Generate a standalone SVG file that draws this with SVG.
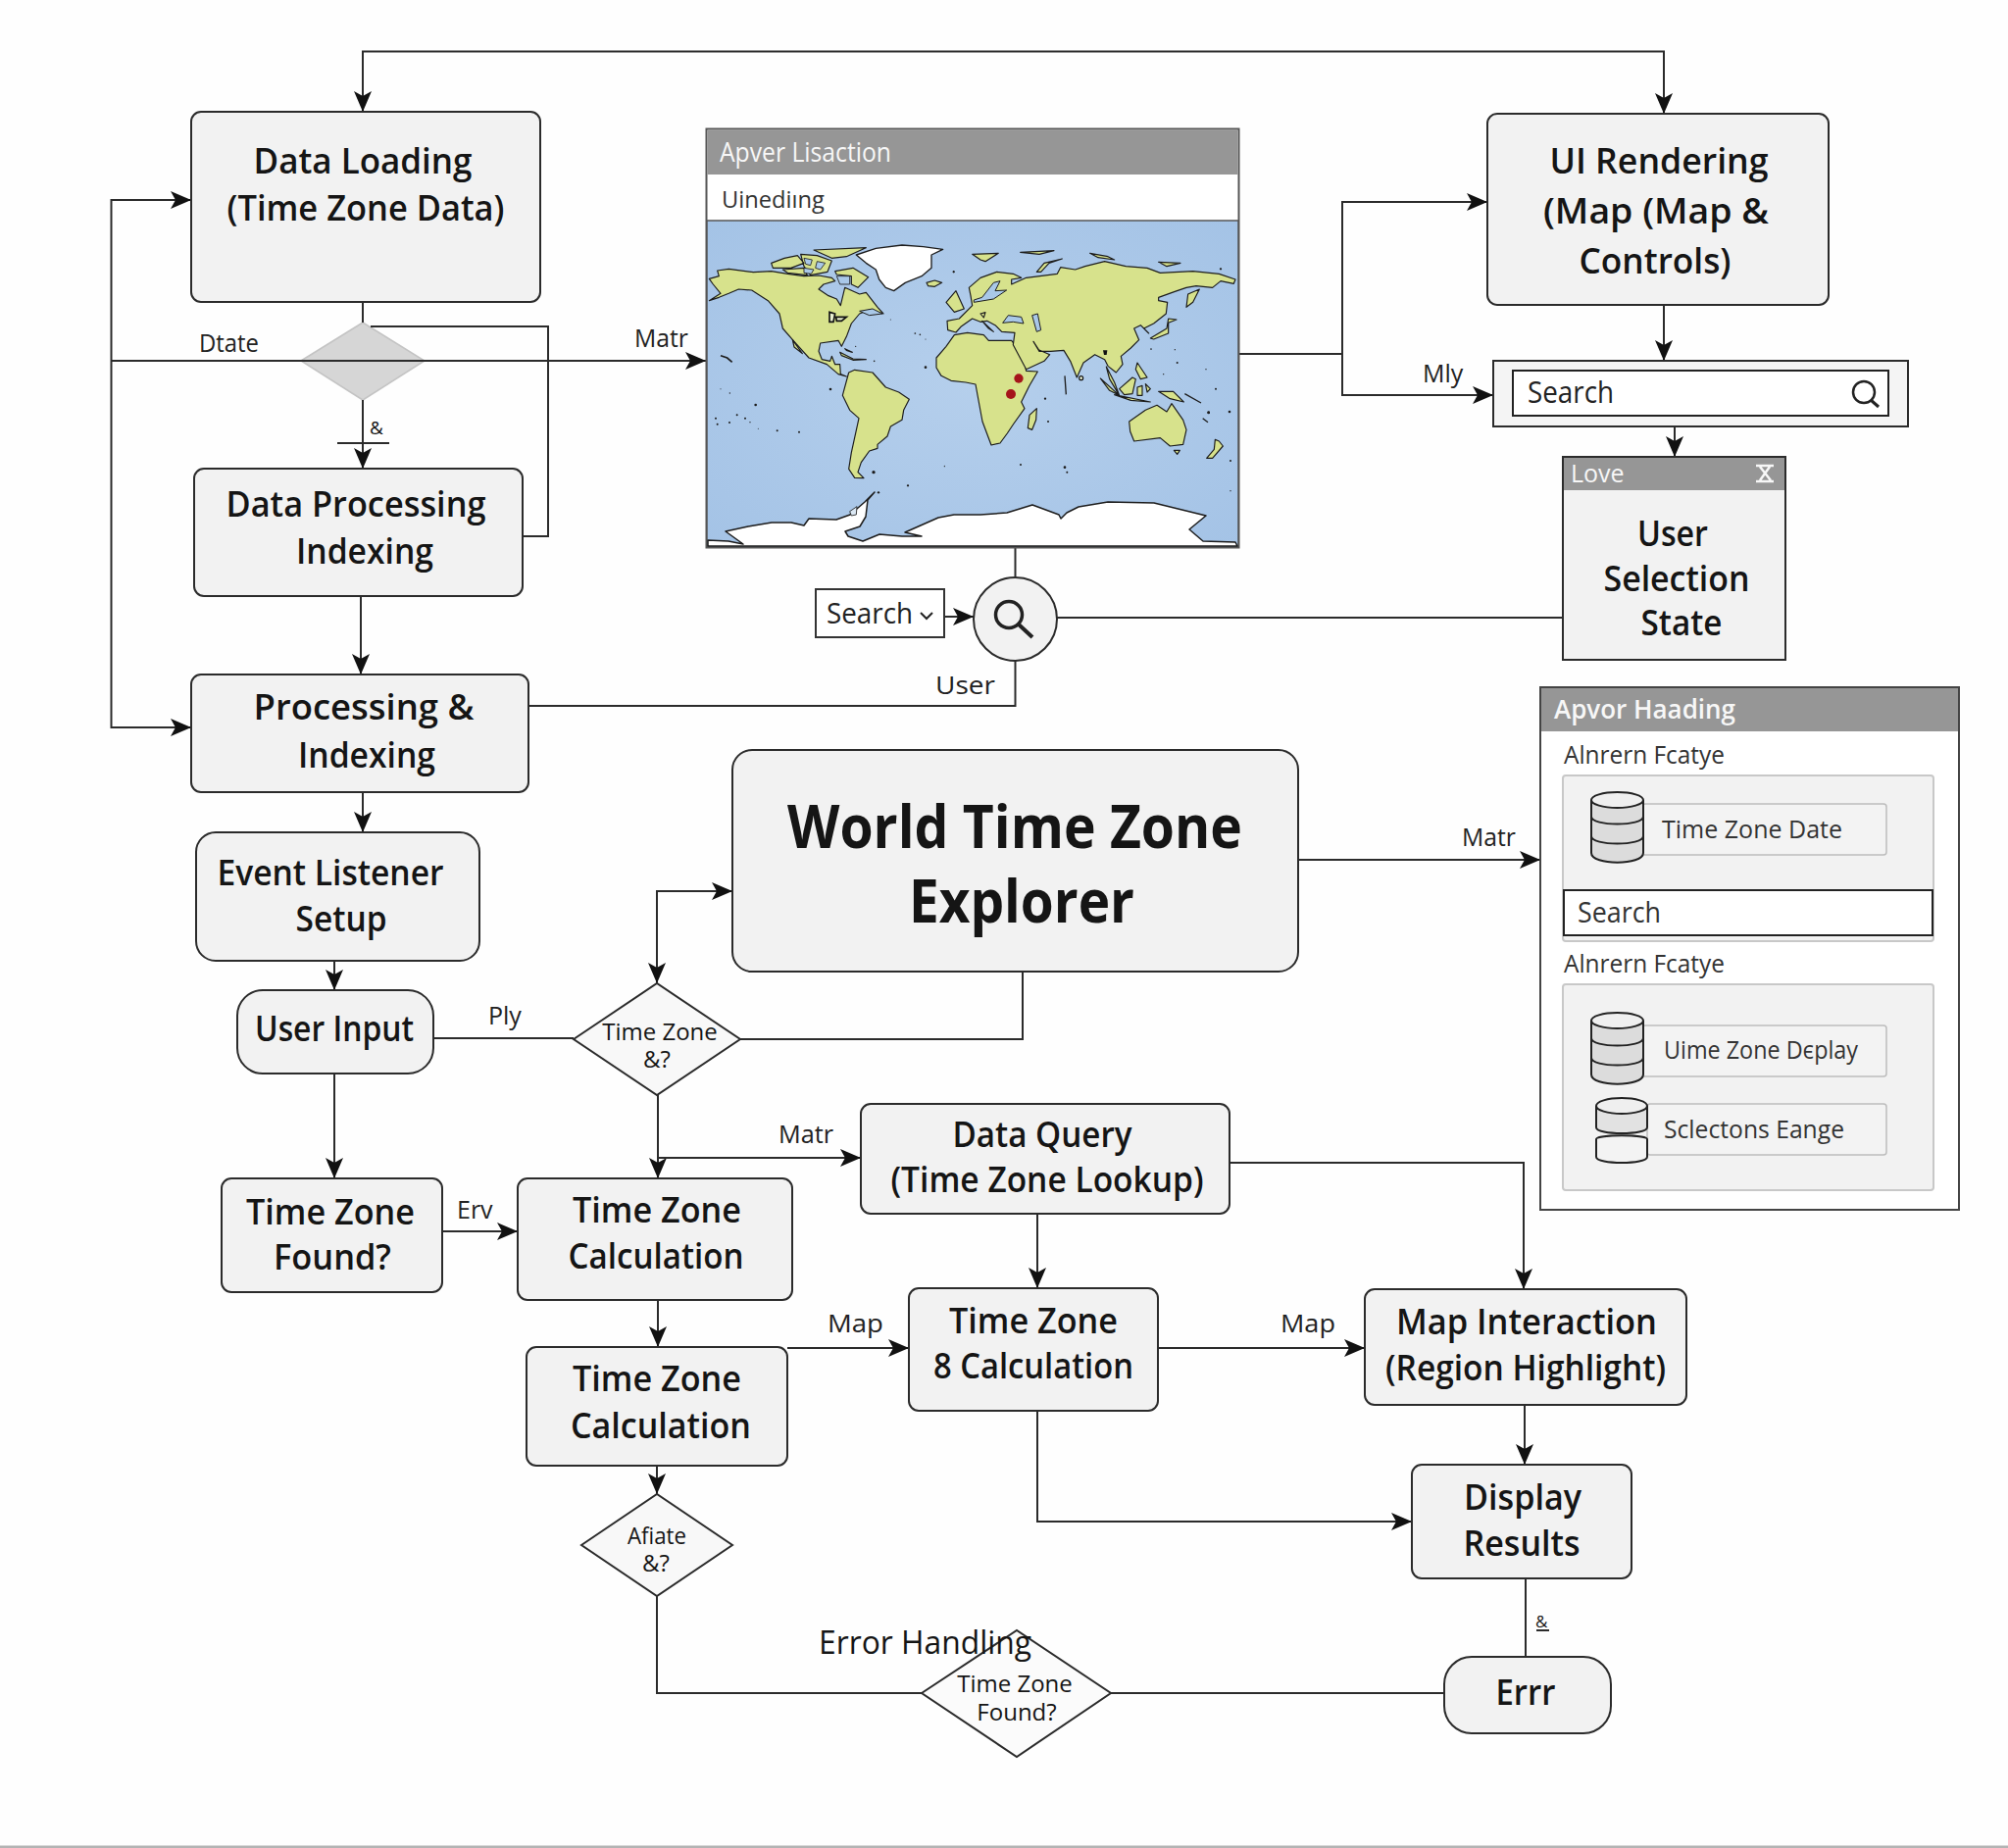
<svg xmlns="http://www.w3.org/2000/svg" width="2048" height="1885" viewBox="0 0 2048 1885">
<style>
text{font-family:"Open Sans","Noto Sans","Liberation Sans",sans-serif;fill:#151515}
.n{font-size:36px;font-weight:600;text-anchor:middle;transform:translateY(-1px)}
.d{font-size:24px;text-anchor:middle;font-weight:400}
.l{font-size:25px;font-weight:400;fill:#222}
.box{fill:#f2f2f2;stroke:#2b2b2b;stroke-width:2}
.c{fill:none;stroke:#2b2b2b;stroke-width:2}
.a{marker-end:url(#ah)}
.hdr{fill:#969696}
.ht{fill:#f7f7f7;font-size:27px;font-weight:500}
.cyl{fill:#dcdcdc;stroke:#222;stroke-width:2}
.row{fill:#f3f3f3;stroke:#bdbdbd;stroke-width:1.5}
.sub{fill:#f2f2f2;stroke:#c8c8c8;stroke-width:2}
.t{font-size:25px;fill:#333}
.land{fill:#d7e28c;stroke:#1c1c1c;stroke-width:3.5;stroke-linejoin:round}
.ice{fill:#fff;stroke:#1c1c1c;stroke-width:1.500;stroke-linejoin:round}
.sea{fill:#a9c8e8;stroke:#1c1c1c;stroke-width:3}
.dot{fill:#1c1c1c}
.ln{fill:none;stroke:#1c1c1c;stroke-width:4}
</style>
<defs>
<marker id="ah" markerUnits="userSpaceOnUse" markerWidth="22" markerHeight="20" viewBox="0 0 22 20" refX="21" refY="10" orient="auto-start-reverse"><path d="M0,1 L21,10 L0,19 L5,10Z" fill="#111"/></marker>
<radialGradient id="ocean" cx="50%" cy="50%" r="70%"><stop offset="0" stop-color="#b5cfec"/><stop offset="1" stop-color="#a4c3e6"/></radialGradient>
</defs>
<rect width="2048" height="1885" fill="#fefefe"/>
<rect x="0" y="1882.5" width="2048" height="2.5" fill="#b4b4b4"/>

<g id="node-gate"><polygon points="307,368 370,329 433,368 370,408" fill="#d6d6d6" stroke="#c4c4c4" stroke-width="1.5"/></g>

<g id="connectors">
<path class="c a" d="M370,114 V52.5 H1697 V116" style="marker-start:url(#ah)"/>
<path class="c" d="M370,308 V329"/>
<path class="c a" d="M370,408 V478"/>
<path class="c" d="M344,452 H397"/>
<path class="c" d="M533,547 H559 V333 H378"/>
<path class="c a" d="M113.5,368 H720"/>
<path class="c a" d="M113.5,368 V204 H195"/>
<path class="c a" d="M113.5,368 V742 H195"/>
<path class="c a" d="M368,608 V688"/>
<path class="c" d="M539,720 H1035.5 V674"/>
<path class="c" d="M1035.5,558 V589"/>
<path class="c" d="M1078,630 H1594"/>
<path class="c a" d="M963,629 H993"/>
<path class="c" d="M1263,361 H1369"/>
<path class="c a" d="M1369,361 V206 H1517"/>
<path class="c a" d="M1369,361 V403 H1523"/>
<path class="c a" d="M1697,311 V368"/>
<path class="c a" d="M1708,435 V466"/>
<path class="c a" d="M370,808 V849"/>
<path class="c a" d="M341,980 V1010"/>
<path class="c" d="M442,1059 H585"/>
<path class="c" d="M755,1060 H1043 V991"/>
<path class="c a" d="M670,1003 V909 H747" style="marker-start:url(#ah)"/>
<path class="c a" d="M1324,877 H1571"/>
<path class="c a" d="M341,1095 V1202"/>
<path class="c a" d="M451,1256 H528"/>
<path class="c a" d="M671,1117 V1202"/>
<path class="c a" d="M671,1181 H878"/>
<path class="c a" d="M1254,1186 H1554 V1315"/>
<path class="c a" d="M1058,1238 V1314"/>
<path class="c a" d="M1181,1375 H1392"/>
<path class="c a" d="M671,1326 V1374"/>
<path class="c a" d="M803,1375 H927"/>
<path class="c a" d="M670,1495 V1524"/>
<path class="c a" d="M1555,1433 V1494"/>
<path class="c a" d="M1058,1439 V1552 H1440"/>
<path class="c" d="M670,1628 V1727 H940"/>
<path class="c" d="M1133,1727 H1473"/>
<path class="c" d="M1556,1610 V1690"/>
</g>

<g id="labels">
<text class="l" x="203" y="359" textLength="61" lengthAdjust="spacingAndGlyphs">Dtate</text>
<text class="l" x="647" y="354" textLength="55" lengthAdjust="spacingAndGlyphs">Matr</text>
<text class="l" x="1451" y="390">Mly</text>
<text class="l" x="954" y="708" textLength="61" lengthAdjust="spacingAndGlyphs">User</text>
<text class="l" x="1491" y="863" textLength="55" lengthAdjust="spacingAndGlyphs">Matr</text>
<text class="l" x="498" y="1045">Ply</text>
<text class="l" x="794" y="1166" textLength="56" lengthAdjust="spacingAndGlyphs">Matr</text>
<text class="l" x="466" y="1243">Erv</text>
<text class="l" x="844" y="1359" textLength="57" lengthAdjust="spacingAndGlyphs">Map</text>
<text class="l" x="1306" y="1359" textLength="56" lengthAdjust="spacingAndGlyphs">Map</text>
<text x="377" y="443" style="font-size:19px">&amp;</text>
<text x="1566" y="1660" style="font-size:17px">&amp;</text>
<path class="c" d="M1567,1663 H1580"/>
</g>

<g id="node-data-loading"><rect class="box" x="195" y="114" width="356" height="194" rx="10"/>
<text class="n" x="370" y="178" textLength="223" lengthAdjust="spacingAndGlyphs">Data Loading</text><text class="n" x="373" y="226" textLength="283" lengthAdjust="spacingAndGlyphs">(Time Zone Data)</text></g>

<g id="node-ui-rendering"><rect class="box" x="1517" y="116" width="348" height="195" rx="10"/>
<text class="n" x="1692" y="178" textLength="223" lengthAdjust="spacingAndGlyphs">UI Rendering</text><text class="n" x="1689" y="229" textLength="230" lengthAdjust="spacingAndGlyphs">(Map (Map &amp;</text><text class="n" x="1688" y="280" textLength="155" lengthAdjust="spacingAndGlyphs">Controls)</text></g>

<g id="node-map-panel">
<rect x="720.5" y="131.5" width="543" height="427" fill="#fff" stroke="#555" stroke-width="2"/>
<rect class="hdr" x="721.5" y="132.5" width="541" height="45.500"/>
<text class="ht" x="734" y="165" textLength="175" lengthAdjust="spacingAndGlyphs">Apver Lisaction</text>
<text x="736" y="212" style="font-size:24px;fill:#333" textLength="105" lengthAdjust="spacingAndGlyphs">Uinediıng</text>
<rect x="721" y="225" width="542" height="333" fill="url(#ocean)" stroke="#555" stroke-width="1.500"/>

<g id="map-antarctica"><path class="ice" d="M722,557 L722,551 L743,552 L758,555 L740,542 L763,537 L787,533 L807,533 L820,536 L825,529 L853,530 L867,525 L882,512 L892,502 L885,510 L883,527 L877,537 L862,542 L865,547 L880,552 L897,545 L920,547 L940,547 L923,543 L957,528 L973,525 L1000,525 L1027,523 L1053,515 L1080,525 L1082,529 L1088,523 L1100,517 L1130,512 L1177,513 L1230,526 L1213,540 L1227,552 L1260,553 L1262,557 Z"/></g>

<g id="map-west" transform="translate(720,240) scale(.33333)">
<path class="ice" style="stroke-width:4" d="M460,60 L520,40 L600,30 L665,35 L725,43 L690,60 L690,100 L660,125 L610,145 L575,170 L550,160 L530,135 L520,105 L490,85Z"/>
<path class="land" d="M675,145 L700,138 L722,145 L700,157 L680,155Z"/>
<path class="land" d="M10,200 L45,178 L22,150 L10,133 L40,125 L35,108 L70,103 L145,113 L200,110 L250,118 L300,125 L345,123 L385,130 L395,140 L360,150 L345,165 L375,185 L400,195 L412,215 L425,160 L470,180 L490,175 L525,220 L543,240 L500,228 L470,240 L445,270 L430,310 L415,340 L405,322 L350,330 L345,355 L355,380 L380,385 L385,370 L395,395 L410,395 L412,425 L430,432 L405,425 L370,395 L315,375 L270,325 L235,285 L225,240 L190,200 L140,168 L100,165 L70,178 L40,190 Z"/>
<path class="land" d="M395,110 L450,100 L497,128 L465,160 L445,150 L445,125 L400,120Z"/>
<path class="land" d="M330,45 L490,38 L430,65 L385,70 Z M200,85 L240,70 L280,62 L300,85 L260,100 L205,100Z M290,58 L340,62 L385,78 L372,112 L320,122 L300,95Z M235,105 L300,100 L310,122 L250,115Z"/>
<path class="sea" style="stroke-width:2.500" d="M300,70 L325,75 L320,92 L305,88Z M340,80 L365,85 L350,105 L335,100Z M300,100 L330,105 L322,118 L300,115Z M400,125 L440,125 L440,150 L410,150Z"/>
<path class="sea" d="M470,232 L510,225 L540,240 L500,245Z"/>
<path d="M378,235 L395,240 L390,265 L378,265Z M398,250 L430,250 L415,262 L400,262Z" fill="#e8efd0" stroke="#111" stroke-width="5"/>
<path class="land" d="M265,320 L295,362 L270,342Z M410,358 L450,378 L490,380 L450,382 L415,368Z M425,347 L448,358 L430,352Z"/>
<path class="ln" style="stroke-width:5" d="M45,368 L65,375 L80,388"/>
<g class="dot"><circle cx="672" cy="404" r="4"/><circle cx="640" cy="300" r="2.500"/><circle cx="655" cy="304" r="2.500"/><circle cx="672" cy="318" r="1.500"/><circle cx="381" cy="471" r="4"/><circle cx="152" cy="519" r="4"/><circle cx="95" cy="550" r="3"/><circle cx="120" cy="560" r="3"/><circle cx="30" cy="560" r="3"/><circle cx="35" cy="578" r="3"/><circle cx="72" cy="573" r="3"/><circle cx="135" cy="572" r="2"/><circle cx="73" cy="483" r="2"/><circle cx="45" cy="470" r="1.500"/><circle cx="515" cy="385" r="2.500"/><circle cx="758" cy="112" r="3"/><circle cx="458" cy="340" r="2"/><circle cx="565" cy="258" r="1.500"/></g>
</g>

<g id="map-south" transform="translate(720,370) scale(.33333)">
<path class="land" d="M437,30 L455,22 L510,30 L550,75 L590,90 L622,112 L605,145 L600,175 L565,195 L555,225 L525,250 L525,262 L500,270 L475,305 L465,335 L483,353 L455,352 L437,325 L445,275 L468,170 L440,145 L418,100 Z"/>
<path class="sea" style="fill:#dbe8f4;stroke-width:2.500" d="M440,455 L462,440 L460,465 L445,468Z"/>
<g class="dot"><circle cx="513" cy="335" r="5"/><circle cx="528" cy="397" r="3.500"/><circle cx="618" cy="376" r="3.500"/><circle cx="218" cy="208" r="3"/><circle cx="285" cy="212" r="3"/><circle cx="730" cy="316" r="1.500"/><circle cx="160" cy="202" r="1.500"/></g>
</g>

<g id="map-east" transform="translate(950,240) scale(.33333)">
<path class="land" d="M15,375 L45,340 L70,305 L110,298 L160,305 L175,322 L245,322 L255,335 L285,390 L290,415 L325,417 L300,460 L275,510 L285,530 L252,576 L232,606 L210,636 L183,642 L156,570 L141,489 L135,456 L105,450 L60,445 L30,430 L15,405 Z"/>
<path class="land" d="M48,262 L85,255 L125,215 L120,185 L115,160 L150,130 L200,112 L250,118 L275,130 L245,135 L245,150 L290,130 L385,118 L395,98 L440,105 L470,95 L530,80 L595,95 L660,100 L700,115 L800,110 L880,118 L930,135 L925,148 L885,140 L860,160 L810,155 L780,160 L745,172 L695,190 L695,200 L722,205 L718,240 L680,270 L650,285 L665,300 L640,275 L620,285 L635,320 L610,345 L580,370 L585,395 L565,420 L540,400 L530,380 L500,365 L465,390 L445,435 L425,385 L405,352 L365,355 L330,355 L312,325 L328,350 L362,365 L345,385 L290,410 L250,335 L255,298 L215,295 L195,275 L170,262 L150,265 L125,255 L90,280 L75,297 L50,290Z"/>
<path class="sea" d="M130,198 L155,190 L190,145 L210,140 L195,170 L230,168 L190,195 L130,205Z M218,268 L235,245 L275,250 L282,270 L250,265 Z M308,245 L325,240 L335,290 L322,295Z"/>
<path class="land" d="M155,262 L190,295 L175,285Z M45,205 L75,170 L100,225 L70,235Z M670,315 L720,285 L725,255 L750,258 L725,268 L725,300 L680,318Z M780,220 L785,180 L820,165 L800,205Z M322,112 L345,85 L400,72 L360,85 L335,112Z M125,58 L205,55 L165,80 L150,75Z M272,52 L375,47 L330,58Z M485,55 L540,65 L560,75 L510,68Z M695,82 L762,85 L720,95Z M630,390 L660,435 L640,440 L625,410Z M575,470 L615,435 L625,440 L615,485 L590,488Z M517,438 L575,490 L545,475Z M560,488 L670,510 L610,505Z M535,402 L560,450 L575,490 L545,440Z M695,478 L740,478 L772,510 L730,500Z M630,465 L645,460 L645,490 L630,490Z M655,455 L670,470 L660,480Z M150,240 L165,236 L160,252Z"/>
<circle cx="458" cy="437" r="6" fill="#e8efd0" stroke="#111" stroke-width="3.500"/>
<path d="M525,352 L538,352 L536,366 L528,366Z" fill="#111"/>
<path class="ln" d="M408,430 L412,487 M775,485 L825,513 M830,560 L846,572"/>
<g class="dot"><circle cx="348" cy="500" r="3.500"/><circle cx="357" cy="570" r="3"/><circle cx="752" cy="390" r="3"/><circle cx="848" cy="542" r="4"/><circle cx="912" cy="540" r="4"/><circle cx="885" cy="103" r="3.500"/><circle cx="672" cy="348" r="2.500"/><circle cx="710" cy="425" r="2"/><circle cx="745" cy="350" r="2"/><circle cx="870" cy="470" r="3"/><circle cx="840" cy="410" r="2"/><circle cx="68" cy="112" r="3"/></g>
<circle cx="267" cy="438" r="14" fill="#a5141a"/><circle cx="243" cy="486" r="15" fill="#a5141a"/>
</g>

<g id="map-oceania" transform="translate(960,360) scale(.33333)">
<path class="land" d="M575,210 L625,175 L660,160 L690,180 L705,155 L740,205 L750,235 L740,280 L700,285 L670,260 L590,270 L578,240Z M712,298 L730,298 L722,310Z M812,322 L835,295 L838,265 L850,270 L862,285 L830,322Z M265,230 L270,190 L292,170 L290,205 L278,235Z"/>
<g class="dot"><circle cx="243" cy="342" r="3"/><circle cx="378" cy="350" r="4"/><circle cx="385" cy="365" r="3"/><circle cx="885" cy="330" r="3"/><circle cx="885" cy="422" r="2"/><circle cx="818" cy="183" r="4"/><circle cx="10" cy="347" r="1.500"/></g>
</g>
</g>

<g id="node-search-top"><rect x="1523" y="368" width="423" height="67" fill="#f4f4f4" stroke="#2b2b2b" stroke-width="2"/>
<rect x="1543" y="378" width="383" height="46" fill="#fff" stroke="#222" stroke-width="2"/>
<text x="1558" y="411" style="font-size:31px;fill:#222" textLength="88" lengthAdjust="spacingAndGlyphs">Search</text>
<circle cx="1901" cy="400" r="11" fill="none" stroke="#222" stroke-width="2.500"/><path d="M1908,408 L1916,415" stroke="#222" stroke-width="3"/></g>

<g id="node-user-selection"><rect class="box" x="1594" y="466" width="227" height="207"/>
<rect class="hdr" x="1595" y="467" width="225" height="33"/>
<text x="1602" y="492" style="font-size:25px;fill:#f7f7f7">Love</text>
<path d="M1791,475 H1809 M1791,491 H1809 M1795,476 L1806,490 M1805,476 L1795,490" fill="none" stroke="#f7f7f7" stroke-width="2.500"/>
<text class="n" x="1706" y="558" textLength="72" lengthAdjust="spacingAndGlyphs">User</text><text class="n" x="1710" y="604" textLength="149" lengthAdjust="spacingAndGlyphs">Selection</text><text class="n" x="1715" y="649" textLength="83" lengthAdjust="spacingAndGlyphs">State</text></g>

<g id="node-search-small"><rect x="832" y="601" width="131" height="49" fill="#fff" stroke="#333" stroke-width="2"/>
<text x="843" y="636" style="font-size:30px;fill:#222" textLength="88" lengthAdjust="spacingAndGlyphs">Search</text><path d="M939,625 L945,631 L951,625" fill="none" stroke="#222" stroke-width="2"/></g>

<g id="node-magnifier"><circle cx="1035.500" cy="631.500" r="42.500" fill="#f2f2f2" stroke="#2b2b2b" stroke-width="2"/>
<circle cx="1029" cy="627" r="13.500" fill="none" stroke="#222" stroke-width="3.500"/><path d="M1039,637 L1053,650" stroke="#222" stroke-width="4"/></g>

<g id="node-data-processing"><rect class="box" x="198" y="478" width="335" height="130" rx="10"/>
<text class="n" x="363" y="528" textLength="265" lengthAdjust="spacingAndGlyphs">Data Processing</text><text class="n" x="372" y="576" textLength="140" lengthAdjust="spacingAndGlyphs">Indexing</text></g>

<g id="node-processing-indexing"><rect class="box" x="195" y="688" width="344" height="120" rx="10"/>
<text class="n" x="371" y="735" textLength="225" lengthAdjust="spacingAndGlyphs">Processing &amp;</text><text class="n" x="374" y="784" textLength="140" lengthAdjust="spacingAndGlyphs">Indexing</text></g>

<g id="node-event-listener"><rect class="box" x="200" y="849" width="289" height="131" rx="20"/>
<text class="n" x="337" y="904" textLength="231" lengthAdjust="spacingAndGlyphs">Event Listener</text><text class="n" x="348" y="951" textLength="93" lengthAdjust="spacingAndGlyphs">Setup</text></g>

<g id="node-user-input"><rect class="box" x="242" y="1010" width="200" height="85" rx="26"/>
<text class="n" x="341" y="1063" textLength="162" lengthAdjust="spacingAndGlyphs">User Input</text></g>

<g id="node-world"><rect class="box" x="747" y="765" width="577" height="226" rx="20"/>
<text x="1035" y="865" style="font-size:61px;font-weight:700;text-anchor:middle" textLength="464" lengthAdjust="spacingAndGlyphs">World Time Zone</text>
<text x="1042" y="941" style="font-size:61px;font-weight:700;text-anchor:middle" textLength="230" lengthAdjust="spacingAndGlyphs">Explorer</text></g>

<g id="node-panel-right"><rect x="1571" y="701" width="427" height="533" fill="#fff" stroke="#444" stroke-width="2"/>
<rect class="hdr" x="1572" y="702" width="425" height="44"/>
<text class="ht" x="1585" y="733" style="font-weight:600" textLength="185" lengthAdjust="spacingAndGlyphs">Apvor Haading</text>
<text class="t" x="1595" y="779" textLength="164" lengthAdjust="spacingAndGlyphs">Alnrern Fcatye</text>
<rect class="sub" x="1594" y="791" width="378" height="169" rx="3"/>
<rect class="row" x="1675" y="820" width="249" height="52" rx="3"/>
<path class="cyl" d="M1623,816 V870 C1623,883 1676,883 1676,870 V816"/>
<ellipse class="cyl" cx="1649.500" cy="816" rx="26.500" ry="8" style="fill:#efefef"/>
<path d="M1623,833 C1623,843 1676,843 1676,833 M1623,853 C1623,863 1676,863 1676,853" fill="none" stroke="#222" stroke-width="2"/>
<text class="t" x="1695" y="855" textLength="184" lengthAdjust="spacingAndGlyphs">Time Zone Date</text>
<rect x="1595" y="908" width="376" height="46" fill="#fff" stroke="#222" stroke-width="2"/>
<text x="1609" y="941" style="font-size:29px;fill:#333" textLength="85" lengthAdjust="spacingAndGlyphs">Search</text>
<text class="t" x="1595" y="992" textLength="164" lengthAdjust="spacingAndGlyphs">Alnrern Fcatye</text>
<rect class="sub" x="1594" y="1004" width="378" height="210" rx="3"/>
<rect class="row" x="1675" y="1046" width="249" height="52" rx="3"/>
<path class="cyl" d="M1623,1041 V1096 C1623,1109 1676,1109 1676,1096 V1041"/>
<ellipse class="cyl" cx="1649.500" cy="1041" rx="26.500" ry="8" style="fill:#efefef"/>
<path d="M1623,1059 C1623,1069 1676,1069 1676,1059 M1623,1079 C1623,1089 1676,1089 1676,1079" fill="none" stroke="#222" stroke-width="2"/>
<text class="t" x="1697" y="1080" textLength="198" lengthAdjust="spacingAndGlyphs">Uime Zone Dєplay</text>
<rect class="row" x="1680" y="1126" width="244" height="52" rx="3"/>
<path d="M1628,1128 V1150 C1628,1158 1680,1158 1680,1150 V1128" fill="#e2e2e2" stroke="#222" stroke-width="2"/>
<ellipse cx="1654" cy="1128" rx="26" ry="8" fill="#efefef" stroke="#222" stroke-width="2"/>
<path d="M1628,1162 C1628,1157 1680,1157 1680,1162 V1180 C1680,1188 1628,1188 1628,1180Z" fill="#f3f3f3" stroke="#222" stroke-width="2"/>
<text class="t" x="1697" y="1161" textLength="184" lengthAdjust="spacingAndGlyphs">Sclectons Eange</text>
</g>

<g id="node-tz-found"><rect class="box" x="226" y="1202" width="225" height="116" rx="10"/>
<text class="n" x="337" y="1250" textLength="172" lengthAdjust="spacingAndGlyphs">Time Zone</text><text class="n" x="339" y="1296" textLength="120" lengthAdjust="spacingAndGlyphs">Found?</text></g>
<g id="node-tz-decision"><polygon points="585,1060 670,1003 755,1060 670,1117" fill="#f8f8f8" stroke="#2b2b2b" stroke-width="2"/>
<text class="d" x="673" y="1061">Time Zone</text><text class="d" x="670" y="1089">&amp;?</text></g>
<g id="node-tz-calc1"><rect class="box" x="528" y="1202" width="280" height="124" rx="10"/>
<text class="n" x="670" y="1248" textLength="172" lengthAdjust="spacingAndGlyphs">Time Zone</text><text class="n" x="669" y="1295" textLength="179" lengthAdjust="spacingAndGlyphs">Calculation</text></g>
<g id="node-data-query"><rect class="box" x="878" y="1126" width="376" height="112" rx="10"/>
<text class="n" x="1063" y="1171" textLength="183" lengthAdjust="spacingAndGlyphs">Data Query</text><text class="n" x="1068" y="1217" textLength="319" lengthAdjust="spacingAndGlyphs">(Time Zone Lookup)</text></g>
<g id="node-tz-calc8"><rect class="box" x="927" y="1314" width="254" height="125" rx="10"/>
<text class="n" x="1054" y="1361" textLength="172" lengthAdjust="spacingAndGlyphs">Time Zone</text><text class="n" x="1054" y="1407" textLength="204" lengthAdjust="spacingAndGlyphs">8 Calculation</text></g>
<g id="node-map-interaction"><rect class="box" x="1392" y="1315" width="328" height="118" rx="10"/>
<text class="n" x="1557" y="1362" textLength="266" lengthAdjust="spacingAndGlyphs">Map Interaction</text><text class="n" x="1556" y="1409" textLength="286" lengthAdjust="spacingAndGlyphs">(Region Highlight)</text></g>
<g id="node-tz-calc2"><rect class="box" x="537" y="1374" width="266" height="121" rx="10"/>
<text class="n" x="670" y="1420" textLength="172" lengthAdjust="spacingAndGlyphs">Time Zone</text><text class="n" x="674" y="1468" textLength="184" lengthAdjust="spacingAndGlyphs">Calculation</text></g>
<g id="node-display"><rect class="box" x="1440" y="1494" width="224" height="116" rx="10"/>
<text class="n" x="1553" y="1541" textLength="120" lengthAdjust="spacingAndGlyphs">Display</text><text class="n" x="1552" y="1588" textLength="119" lengthAdjust="spacingAndGlyphs">Results</text></g>
<g id="node-afiate"><polygon points="593,1576 670,1524 747,1576 670,1628" fill="#f8f8f8" stroke="#2b2b2b" stroke-width="2"/>
<text class="d" x="670" y="1575" textLength="60" lengthAdjust="spacingAndGlyphs">Afiate</text><text class="d" x="669" y="1603">&amp;?</text></g>
<g id="node-tz-found2"><polygon points="940,1727 1037,1663 1133,1727 1037,1792" fill="#fbfbfb" stroke="#2b2b2b" stroke-width="2"/>
<text class="d" x="1035" y="1726">Time Zone</text><text class="d" x="1037" y="1755">Found?</text></g>
<g id="node-err"><rect class="box" x="1473" y="1690" width="170" height="78" rx="28"/>
<text class="n" x="1556" y="1740" textLength="61" lengthAdjust="spacingAndGlyphs">Errr</text></g>
<text x="835" y="1687" style="font-size:33px" textLength="217" lengthAdjust="spacingAndGlyphs">Error Handling</text>
</svg>
